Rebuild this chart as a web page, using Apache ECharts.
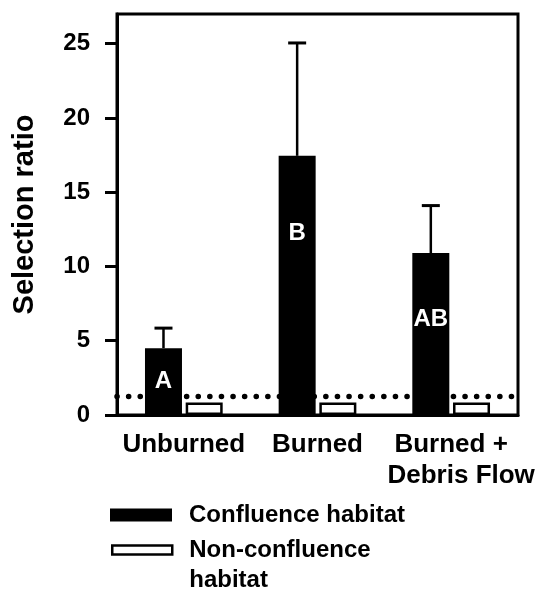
<!DOCTYPE html>
<html><head><meta charset="utf-8">
<script src="https://cdn.jsdelivr.net/npm/echarts@6/dist/echarts.min.js"></script>
<style>html,body{margin:0;padding:0;background:#fff}#c{width:539px;height:590px}</style>
</head><body><div id="c"></div>
<script>
// ---- data ----
const categories = ['Unburned', 'Burned', 'Burned +\nDebris Flow'];
const confluence = [4.5, 17.45, 10.9];
const confluenceUpper = [5.85, 25.05, 14.1];
const nonConfluence = [0.85, 0.85, 0.85];
const letters = ['A', 'B', 'AB'];
const referenceLine = 1.25;
const yTicks = [0, 5, 10, 15, 20, 25];
const yMax = 27;

// ---- styles ----
const FONT = '"Liberation Sans", Arial, Helvetica, sans-serif';
const barW = 37, gapRatio = 0.1;
const letterY = ['50%', '30%', '41%'];

const chart = echarts.init(document.getElementById('c'), null, {renderer: 'canvas'});
const option = {
  animation: false,
  backgroundColor: '#fff',
  grid: {left: 117, right: 21, top: 14, bottom: 175, show: true, borderColor: '#000', borderWidth: 3, backgroundColor: 'transparent'},
  xAxis: [{
    type: 'category', data: categories, boundaryGap: true,
    axisLine: {lineStyle: {color: '#000', width: 3}},
    axisTick: {alignWithLabel: true, length: 10, lineStyle: {color: '#000', width: 2.5}},
    axisLabel: {
      interval: 0, margin: 14, color: '#000', fontFamily: FONT, fontWeight: 'bold', fontSize: 26, lineHeight: 31,
      formatter: function (v) {
        const p = v.split('\n');
        return p.length > 1 ? '{a|' + p[0] + '}\n{b|' + p[1] + '}' : v;
      },
      rich: {
        a: {fontFamily: FONT, fontWeight: 'bold', fontSize: 26, lineHeight: 31, color: '#000'},
        b: {fontFamily: FONT, fontWeight: 'bold', fontSize: 26, lineHeight: 31, color: '#000', padding: [0, 0, 0, 20]}
      }
    },
    splitLine: {show: false}
  }, {
    type: 'value', min: 0, max: 1, show: false
  }],
  yAxis: {
    type: 'value', min: 0, max: yMax,
    name: 'Selection ratio', nameLocation: 'middle', nameGap: 78,
    nameTextStyle: {fontFamily: FONT, fontWeight: 'bold', fontSize: 29, color: '#000'},
    axisLine: {show: true, lineStyle: {color: '#000', width: 3}},
    axisTick: {show: true, length: 12, lineStyle: {color: '#000', width: 3}, customValues: yTicks},
    axisLabel: {customValues: yTicks, margin: 27, color: '#000', fontFamily: FONT, fontWeight: 'bold', fontSize: 24},
    splitLine: {show: false}
  },
  legend: [{
    data: [{name: 'Confluence habitat', icon: 'rect'}],
    left: 110, top: 500, padding: 0, itemWidth: 62, itemHeight: 13, selectedMode: false,
    textStyle: {fontFamily: FONT, fontWeight: 'bold', fontSize: 24, color: '#000', lineHeight: 30, padding: [0, 0, 0, 12]}
  }, {
    data: [{name: 'Non-confluence habitat', icon: 'rect', itemStyle: {color: '#fff', borderColor: '#000', borderWidth: 2.5}}],
    left: 111, top: 505, padding: 0, itemWidth: 60, itemHeight: 9, selectedMode: false,
    formatter: function () { return ' \nNon-confluence\nhabitat'; },
    textStyle: {fontFamily: FONT, fontWeight: 'bold', fontSize: 24, color: '#000', lineHeight: 30, padding: [0, 0, 0, 12]}
  }],
  series: [{
    name: 'Reference', type: 'line', xAxisIndex: 1, yAxisIndex: 0, z: 1,
    data: [[0, referenceLine], [1, referenceLine]], symbol: 'none', silent: true,
    lineStyle: {color: '#000', width: 5.5, type: [0.1, 11.5], cap: 'round'}
  }, {
    name: 'Confluence habitat', type: 'bar', z: 2, barWidth: barW, barGap: (gapRatio * 100) + '%',
    itemStyle: {color: '#000'},
    data: confluence.map(function (v, i) { return {value: v, label: {position: ['50%', letterY[i]]}}; }),
    label: {
      show: true, align: 'center', verticalAlign: 'middle', color: '#fff',
      fontFamily: FONT, fontWeight: 'bold', fontSize: 24,
      formatter: function (p) { return letters[p.dataIndex]; }
    }
  }, {
    name: 'Non-confluence habitat', type: 'bar', z: 2, barWidth: barW,
    itemStyle: {color: '#fff', borderColor: '#000', borderWidth: 2.5},
    data: nonConfluence
  }, {
    name: 'Error', type: 'custom', z: 3, xAxisIndex: 0, yAxisIndex: 0,
    data: confluence.map(function (v, i) { return [i, v, confluenceUpper[i]]; }),
    encode: {x: 0, y: [1, 2]},
    renderItem: function (params, api) {
      const i = api.value(0);
      const lo = api.coord([i, api.value(1)]);
      const hi = api.coord([i, api.value(2)]);
      const x = lo[0] - (barW + barW * gapRatio) / 2;
      const cap = 9;
      return {type: 'group', children: [
        {type: 'line', shape: {x1: x, y1: lo[1], x2: x, y2: hi[1]}, style: {stroke: '#000', lineWidth: 2.5}},
        {type: 'line', shape: {x1: x - cap, y1: hi[1], x2: x + cap, y2: hi[1]}, style: {stroke: '#000', lineWidth: 3}}
      ]};
    }
  }]
};
chart.setOption(option);
</script></body></html>
